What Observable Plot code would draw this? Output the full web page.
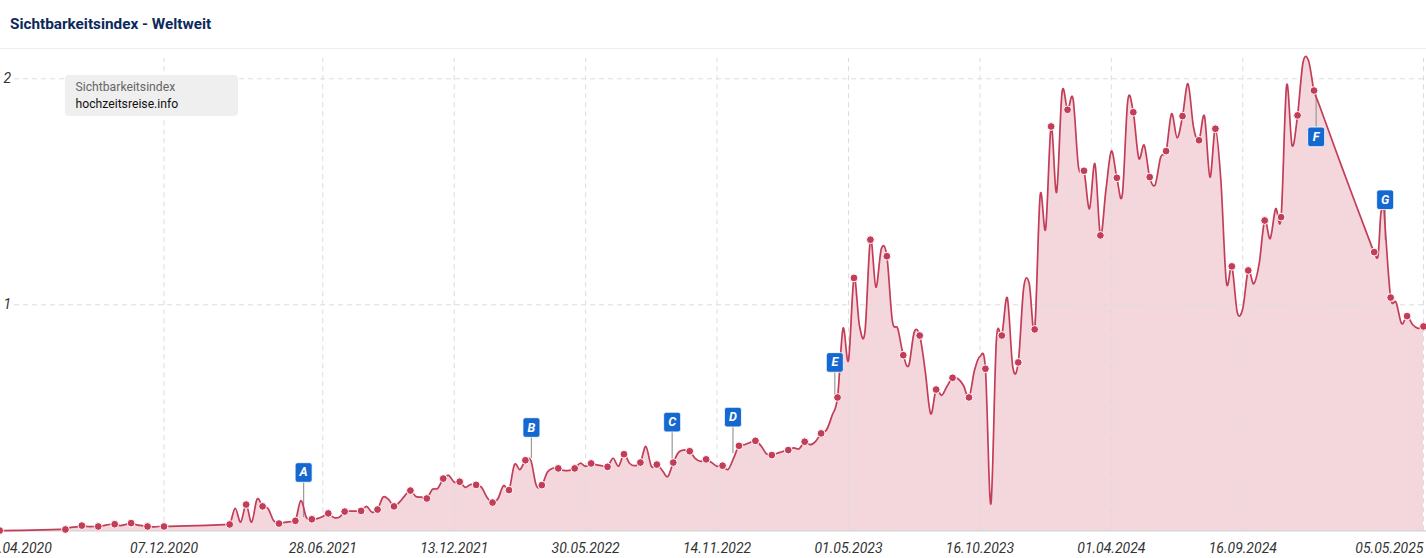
<!DOCTYPE html>
<html lang="de">
<head>
<meta charset="utf-8">
<title>Sichtbarkeitsindex - Weltweit</title>
<script src="https://cdn.jsdelivr.net/npm/d3@7"></script>
<script src="https://cdn.jsdelivr.net/npm/@observablehq/plot@0.6"></script>
<style>
html,body{margin:0;padding:0;background:#fff;overflow:hidden;font-family:Roboto,sans-serif}
#wrap{position:relative;width:1426px;height:558px;overflow:hidden}
#title{height:48px;line-height:48px;padding-left:10px;font-size:15.3px;font-weight:700;color:#0b2a5b;border-bottom:1px solid #eeeeee;box-sizing:content-box}
#legend{position:absolute;left:65px;top:75px;width:173px;height:41px;background:#efefef;border-radius:4px;font-size:12.2px;box-sizing:border-box;padding:4px 0 0 10.5px;line-height:17px}
#legend .a{color:#666}
#legend .b{color:#111}
svg{display:block}
</style>
</head>
<body>
<div id="wrap">
<div id="title">Sichtbarkeitsindex - Weltweit</div>
<div id="chart"></div>
<div id="legend"><div class="a">Sichtbarkeitsindex</div><div class="b">hochzeitsreise.info</div></div>
</div>
<script>
const seriesStart = new Date(Date.UTC(2020, 4, 11));
const seriesEnd = new Date(Date.UTC(2025, 4, 5));

// visibility index per week since seriesStart (null = not read that week)
const weeklyValues = [
0.001,0.001,null,null,null,null,0.003,null,null,null,null,0.006,
0.006,0.015,0.017,0.023,0.019,0.019,0.019,0.023,0.028,0.029,0.023,0.028,0.034,0.026,0.023,0.019,0.017,0.019,0.019,
0.02,null,null,null,null,0.023,null,null,null,null,0.027,
0.028,0.099,0.038,0.116,0.038,0.14,0.108,0.099,0.046,0.032,0.037,0.041,0.044,0.134,0.059,0.051,
0.054,0.063,0.077,0.059,0.06,0.085,0.087,0.087,0.088,0.108,0.082,0.094,0.149,0.139,0.108,0.127,0.156,0.178,0.152,0.149,0.143,0.183,
0.188,0.231,0.245,0.215,0.217,0.192,0.205,0.203,0.192,0.147,0.125,0.143,0.2,0.18,0.293,0.271,0.312,0.311,0.2,0.202,
0.259,0.277,0.276,0.267,0.267,0.276,0.299,0.285,0.298,0.292,0.288,0.283,0.321,0.286,0.339,0.299,0.288,0.302,0.373,0.285,
0.293,0.267,0.24,0.302,0.348,0.357,0.352,0.321,0.307,0.316,0.302,0.285,0.288,0.271,0.32,0.376,0.381,0.391,0.398,0.377,
0.341,0.335,0.343,0.351,0.357,0.367,0.363,0.394,0.381,0.396,0.431,0.447,0.51,0.59,0.895,0.754,1.119,0.908,0.879,1.288,
1.078,1.248,1.215,0.93,0.894,0.777,0.731,0.879,0.864,0.709,0.518,0.625,0.599,0.64,0.677,0.673,0.643,0.59,0.709,0.771,
0.717,0.119,0.842,0.864,1.031,0.724,0.745,1.077,1.094,0.891,1.484,1.336,1.789,1.498,1.941,1.863,1.912,1.609,1.593,1.425,
1.624,1.307,1.506,1.68,1.562,1.487,1.904,1.852,1.649,1.706,1.565,1.531,1.653,1.68,1.845,1.739,1.835,1.978,1.786,1.728,
1.835,1.565,1.779,1.55,1.1,1.17,0.966,0.984,1.152,1.093,1.183,1.373,1.293,1.425,1.388,1.97,1.705,1.838,2.072,2.081,
1.948,1.882,null,null,null,1.616,null,null,null,null,1.293,
1.233,null,1.342,1.032,1.011,0.917,0.95,0.913,0.896,0.904
];

// readings between weeks around the narrow spike under flag G
const spikeWeeks = [251.7, 252.2, 252.7];
const spikeValues = [1.218, 1.40, 1.44];

// weeks that carry a dot
const dotWeeks = [0,12,15,18,21,24,27,30,42,45,48,51,54,57,60,63,66,69,72,75,78,81,84,87,90,93,96,99,102,105,108,111,114,117,120,123,126,129,132,135,138,141,144,147,150,153,156,159,162,165,168,171,174,177,180,183,186,189,192,195,198,201,204,207,210,213,216,219,222,225,228,231,234,237,240,251,254,257,260];

const tickDates = ["2020-12-07","2021-06-28","2021-12-13","2022-05-30","2022-11-14","2023-05-01","2023-10-16","2024-04-01","2024-09-16","2025-05-05"];
const tickLabels = ["07.12.2020","28.06.2021","13.12.2021","30.05.2022","14.11.2022","01.05.2023","16.10.2023","01.04.2024","16.09.2024","05.05.2025"];
const firstLabel = "27.04.2020";
const firstLabelDate = "2020-06-03";
const yTicks = [1, 2];

const flagLetters = ["A","B","C","D","E","F","G"];
const flagWeeks = [55.5,97.1,122.8,133.9,152.5,240.4,253];
const flagBoxValues = [0.258,0.457,0.481,0.503,0.745,1.743,1.465];
const flagAnchorValues = [0.059,0.32,0.302,0.342,0.59,1.935,1.284];

const weekDate = k => new Date(+seriesStart + k * 7 * 864e5);
const series = weeklyValues.map((v, k) => ({date: weekDate(k), v}))
  .concat(spikeWeeks.map((k, i) => ({date: weekDate(k), v: spikeValues[i]})))
  .filter(d => d.v !== null)
  .sort((a, b) => a.date - b.date);
const dots = dotWeeks.map(k => ({date: weekDate(k), v: weeklyValues[k]}));
const flags = flagLetters.map((t, i) => ({t, date: weekDate(flagWeeks[i]), box: flagBoxValues[i], anchor: flagAnchorValues[i]}));
const ticks = tickDates.map((d, i) => ({date: new Date(d + "T00:00Z"), label: tickLabels[i]}));

const flagSymbol = {
  draw(ctx) {
    const w = 8.5, h = 9.8, r = 2.5;
    ctx.moveTo(-w + r, -h);
    ctx.arcTo(w, -h, w, h, r);
    ctx.arcTo(w, h, -w, h, r);
    ctx.arcTo(-w, h, -w, -h, r);
    ctx.arcTo(-w, -h, w, -h, r);
    ctx.closePath();
  }
};

const curve = "cardinal";
const red = "#c43d58";
const gridColor = "#dcdcdc";
const gridTop = 2.09;
const gridLeft = new Date(Date.UTC(2020, 4, 30));
const gridRight = new Date(Date.UTC(2025, 4, 9));

const chart = Plot.plot({
  width: 1426,
  height: 509,
  marginTop: 0, marginBottom: 0, marginLeft: 0, marginRight: 0,
  style: {fontFamily: "Roboto, sans-serif", background: "transparent", overflow: "hidden"},
  x: {type: "utc", domain: [seriesStart, seriesEnd], range: [-0.8, 1423], axis: null},
  y: {domain: [0, 2], range: [481.3, 29.3], axis: null},
  marks: [
    Plot.areaY(series, {x: "date", y: "v", curve, fill: "#f3d7dc"}),
    Plot.ruleY(yTicks, {y: d => d, x1: gridLeft, x2: gridRight, stroke: gridColor, strokeDasharray: "5,4", strokeWidth: 1}),
    Plot.ruleX(ticks, {x: "date", y1: 0, y2: gridTop, stroke: gridColor, strokeDasharray: "5,4", strokeWidth: 1}),
    Plot.ruleY([0], {stroke: "#cfcfcf", strokeWidth: 1.2}),
    Plot.ruleX(flags, {x: "date", y1: "anchor", y2: "box", stroke: "#999", strokeWidth: 1.2}),
    Plot.lineY(series, {x: "date", y: "v", curve, stroke: red, strokeWidth: 1.7}),
    Plot.dot(dots, {x: "date", y: "v", r: 3.9, fill: red, stroke: "#fff", strokeWidth: 1}),
    Plot.dot(flags, {x: "date", y: "box", r: 8, symbol: flagSymbol, fill: "#1468d0", stroke: "#fff", strokeWidth: 0.8}),
    Plot.text(flags, {x: "date", y: "box", text: "t", fill: "#fff", fontSize: 12.5, fontWeight: 700, fontStyle: "italic"}),
    Plot.text(ticks.slice(0, -1), {x: "date", y: 0, text: "label", dy: 18, fontSize: 14, fontStyle: "italic", fill: "#333"}),
    Plot.text(ticks.slice(-1), {x: "date", y: 0, text: "label", dy: 18, textAnchor: "end", fontSize: 14, fontStyle: "italic", fill: "#333"}),
    Plot.text([firstLabel], {x: new Date(firstLabelDate + "T00:00Z"), y: 0, text: d => d, dy: 18, fontSize: 14, fontStyle: "italic", fill: "#333"}),
    Plot.text(yTicks, {y: d => d, frameAnchor: "left", text: d => String(d), dx: 3, fontSize: 14, fontStyle: "italic", fill: "#333"})
  ]
});
document.getElementById("chart").appendChild(chart);
</script>
</body>
</html>
